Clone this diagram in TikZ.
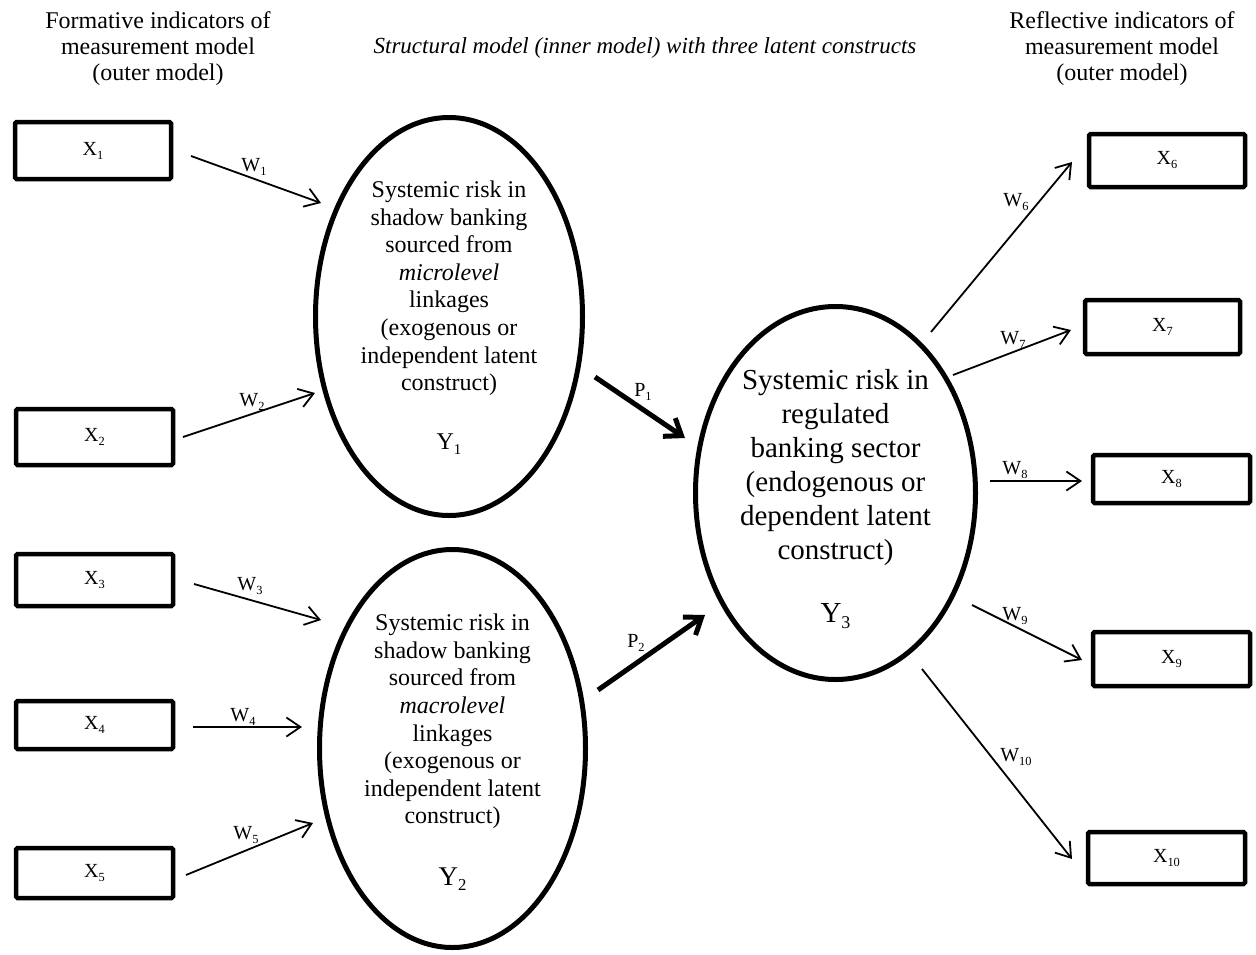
\documentclass[tikz,border=0pt]{standalone}
\usepackage{fontspec}
\setmainfont{Liberation Serif}
\usepackage{graphicx}
\usetikzlibrary{arrows.meta,shapes.geometric}
\newcommand\lo[1]{\raisebox{-0.2em}{\scalebox{0.62}{#1}}}
\begin{document}
\begin{tikzpicture}[x=1pt,y=-1pt,
  ind/.style={draw, line width=4.5pt, rounded corners=1.5pt, inner sep=0pt, font=\fontsize{20}{24}\selectfont},
  lat/.style={draw, ellipse, line width=5pt, inner sep=0pt},
  lattxt/.style={align=center, inner sep=0pt},
  arr/.style={line width=1.8pt, -{Straight Barb[length=14pt,width=19pt]}},
  parr/.style={line width=5pt, -{Straight Barb[length=15pt,width=22pt]}},
  wl/.style={font=\fontsize{20}{24}\selectfont, inner sep=0pt},
  hdr/.style={align=center, inner sep=0pt, font=\fontsize{24}{26}\selectfont}]
\fill[white] (0,0) rectangle (1256,954);
\useasboundingbox (0,0) rectangle (1256,954);

% headers
\node[hdr, anchor=north] (hl) at (158,11) {Formative indicators of\\measurement model\\(outer model)};
\node[hdr, anchor=north] (hr) at (1122,11) {Reflective indicators of\\measurement model\\(outer model)};
\node[inner sep=0pt, anchor=base, font=\fontsize{23}{26}\selectfont\itshape] (hm) at (645,53) {Structural model (inner model) with three latent constructs};

% indicator boxes
\node[ind, minimum width=156pt, minimum height=57pt] (X1) at (93,150.5) {X\lo{1}};
\node[ind, minimum width=157pt, minimum height=56pt] (X2) at (94.5,437) {X\lo{2}};
\node[ind, minimum width=157pt, minimum height=52pt] (X3) at (94.5,580) {X\lo{3}};
\node[ind, minimum width=157pt, minimum height=48pt] (X4) at (94.5,725) {X\lo{4}};
\node[ind, minimum width=157pt, minimum height=50pt] (X5) at (94.5,873) {X\lo{5}};
\node[ind, minimum width=156pt, minimum height=53pt] (X6) at (1167,160.5) {X\lo{6}};
\node[ind, minimum width=155pt, minimum height=54pt] (X7) at (1162.5,327) {X\lo{7}};
\node[ind, minimum width=157pt, minimum height=48pt] (X8) at (1171.5,479) {X\lo{8}};
\node[ind, minimum width=157pt, minimum height=54pt] (X9) at (1171.5,659) {X\lo{9}};
\node[ind, minimum width=157pt, minimum height=52pt] (X10) at (1166.5,858) {X\lo{10}};

% latent constructs
\node[lat, minimum width=267pt, minimum height=398pt] (Y1) at (449,316.5) {};
\node[lat, minimum width=266pt, minimum height=398pt] (Y2) at (452.5,748.5) {};
\node[lat, minimum width=280pt, minimum height=373pt] (Y3) at (835.5,493) {};

\node[lattxt, font=\fontsize{24}{27.6}\selectfont] (T1) at ([yshift=-1pt]Y1.center) {Systemic risk in\\shadow banking\\sourced from\\\textit{microlevel}\\linkages\\(exogenous or\\independent latent\\construct)\\[31pt]Y\lo{1}};
\node[lattxt, font=\fontsize{24}{27.6}\selectfont] (T2) at ([yshift=-4pt]Y2.center) {Systemic risk in\\shadow banking\\sourced from\\\textit{macrolevel}\\linkages\\(exogenous or\\independent latent\\construct)\\[34pt]{\fontsize{27}{27.6}\selectfont Y\lo{2}}};
\node[lattxt, font=\fontsize{29}{34}\selectfont] (T3) at ([yshift=-6pt]Y3.center) {Systemic risk in\\regulated\\banking sector\\(endogenous or\\dependent latent\\construct)\\[29pt]Y\lo{3}};

% arrow end points
\coordinate (a1) at (191,156);  \coordinate (b1) at (321,203);
\coordinate (a2) at (183,437);  \coordinate (b2) at (315,393);
\coordinate (a3) at (194,584);  \coordinate (b3) at (321,620);
\coordinate (a4) at (193,727);  \coordinate (b4) at (302,727);
\coordinate (a5) at (186,875);  \coordinate (b5) at (313,823);
\coordinate (a6) at (931,332);  \coordinate (b6) at (1072,162);
\coordinate (a7) at (953,375);  \coordinate (b7) at (1071,330);
\coordinate (a8) at (990,481);  \coordinate (b8) at (1082,481);
\coordinate (a9) at (972,605);  \coordinate (b9) at (1082,660);
\coordinate (a10) at (922,669); \coordinate (b10) at (1072,859);
\coordinate (p1s) at (595,377); \coordinate (p1e) at (685,438);
\coordinate (p2s) at (598,690); \coordinate (p2e) at (705,615);

\draw[arr] (a1) -- (b1);
\draw[arr] (a2) -- (b2);
\draw[arr] (a3) -- (b3);
\draw[arr] (a4) -- (b4);
\draw[arr] (a5) -- (b5);
\draw[arr] (a6) -- (b6);
\draw[arr] (a7) -- (b7);
\draw[arr] (a8) -- (b8);
\draw[arr] (a9) -- (b9);
\draw[arr] (a10) -- (b10);
\draw[parr] (p1s) -- (p1e);
\draw[parr] (p2s) -- (p2e);

% weight labels
\node[wl] (W1) at (254,167) {W\lo{1}};
\node[wl] (W2) at (252,402) {W\lo{2}};
\node[wl] (W3) at (250,586) {W\lo{3}};
\node[wl] (W4) at (243,717) {W\lo{4}};
\node[wl] (W5) at (246,835) {W\lo{5}};
\node[wl] (W6) at (1016,202) {W\lo{6}};
\node[wl] (W7) at (1013,340) {W\lo{7}};
\node[wl] (W8) at (1015,470) {W\lo{8}};
\node[wl] (W9) at (1015,616) {W\lo{9}};
\node[wl] (W10) at (1016,757) {W\lo{10}};
\node[wl] (P1) at (643,392) {P\lo{1}};
\node[wl] (P2) at (636,643) {P\lo{2}};
\end{tikzpicture}
\end{document}
